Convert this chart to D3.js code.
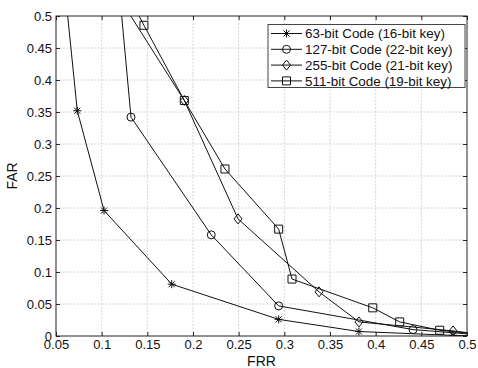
<!DOCTYPE html>
<html><head><meta charset="utf-8">
<script src="https://cdn.jsdelivr.net/npm/d3@7"></script>
<style>body{margin:0;background:#fff}svg{display:block;font-family:Arial,"Liberation Sans",sans-serif}</style>
</head><body><svg id="c" width="478" height="368"></svg>
<script>
const xTicks = [0.05,0.1,0.15,0.2,0.25,0.3,0.35,0.4,0.45,0.5];
const yTicks = [0,0.05,0.1,0.15,0.2,0.25,0.3,0.35,0.4,0.45,0.5];
const seriesNames = ["63-bit Code (16-bit key)","127-bit Code (22-bit key)","255-bit Code (21-bit key)","511-bit Code (19-bit key)"];
const markers = ["star","circle","diamond","square"];
const frr63 = [0.0557,0.0733,0.1026,0.1767,0.2938,0.3817,0.4847,0.53];
const far63 = [0.6,0.352,0.196,0.081,0.026,0.007,0.001,0.0];
const frr127 = [0.1155,0.1321,0.2200,0.2938,0.4409,0.53];
const far127 = [0.6,0.342,0.158,0.047,0.010,0.0];
const frr255 = [0.0874,0.1905,0.2493,0.3380,0.3817,0.4847,0.53];
const far255 = [0.6,0.368,0.183,0.069,0.022,0.008,0.0];
const frr511 = [0.104,0.1463,0.1905,0.2350,0.2938,0.3084,0.3968,0.4263,0.4701,0.53];
const far511 = [0.6,0.4855,0.368,0.261,0.167,0.089,0.044,0.022,0.009,0.0];
const allFrr = [frr63,frr127,frr255,frr511];
const allFar = [far63,far127,far255,far511];

const L=56,R=467,T=16,B=336;
const svg=d3.select("#c");
const x=d3.scaleLinear().domain([0.05,0.5]).range([L,R]);
const y=d3.scaleLinear().domain([0,0.5]).range([B,T]);

// grid
const g=svg.append("g");
g.selectAll(".vg").data(xTicks.slice(1,-1)).join("line").attr("x1",d=>x(d)).attr("x2",d=>x(d)).attr("y1",T).attr("y2",B)
 .attr("stroke","#d4d4d4").attr("stroke-width",1).attr("stroke-dasharray","2,1.5");
g.selectAll(".hg").data(yTicks.slice(1,-1)).join("line").attr("y1",d=>y(d)).attr("y2",d=>y(d)).attr("x1",L).attr("x2",R)
 .attr("stroke","#d4d4d4").attr("stroke-width",1).attr("stroke-dasharray","2,1.5");

// axes
const ax=svg.append("g").attr("transform",`translate(0,${B})`).call(d3.axisBottom(x).tickValues(xTicks).tickFormat(d3.format("~g")).tickSizeInner(-4).tickSizeOuter(0).tickPadding(3.5));
const ay=svg.append("g").attr("transform",`translate(${L},0)`).call(d3.axisLeft(y).tickValues(yTicks).tickFormat(d3.format("~g")).tickSizeInner(-4).tickSizeOuter(0).tickPadding(4));
const at=svg.append("g").attr("transform",`translate(0,${T})`).call(d3.axisTop(x).tickValues(xTicks).tickFormat("").tickSizeInner(-4).tickSizeOuter(0));
const ar=svg.append("g").attr("transform",`translate(${R},0)`).call(d3.axisRight(y).tickValues(yTicks).tickFormat("").tickSizeInner(-4).tickSizeOuter(0));
[ax,ay,at,ar].forEach(a=>{a.select(".domain").remove();a.selectAll("line").attr("stroke","#222");a.selectAll("text").attr("font-size",13).attr("fill","#111").attr("font-family","Arial,'Liberation Sans',sans-serif");});
ax.selectAll("text").attr("dy","0.71em");

svg.append("defs").append("clipPath").attr("id","clip").append("rect").attr("x",L).attr("y",T).attr("width",R-L).attr("height",B-T);

function markerPath(type,cx,cy){
  const s=4;
  if(type==="star") return `M${cx-s},${cy}H${cx+s}M${cx},${cy-s}V${cy+s}M${cx-3},${cy-3}L${cx+3},${cy+3}M${cx-3},${cy+3}L${cx+3},${cy-3}`;
  if(type==="circle") return `M${cx+s},${cy}A${s},${s} 0 1,1 ${cx-s},${cy}A${s},${s} 0 1,1 ${cx+s},${cy}Z`;
  if(type==="diamond") return `M${cx},${cy-5}L${cx+4},${cy}L${cx},${cy+5}L${cx-4},${cy}Z`;
  return `M${cx-4},${cy-4}H${cx+4}V${cy+4}H${cx-4}Z`;
}

const plot=svg.append("g").attr("clip-path","url(#clip)");
const line=d3.line().x(d=>x(d[0])).y(d=>y(d[1]));
allFrr.forEach((fr,i)=>{
  const pts=fr.map((v,j)=>[v,allFar[i][j]]);
  plot.append("path").datum(pts).attr("d",line).attr("fill","none").attr("stroke","#111").attr("stroke-width",1);
  plot.selectAll(null).data(pts).join("path").attr("d",d=>markerPath(markers[i],x(d[0]),y(d[1])))
   .attr("fill","none").attr("stroke","#111").attr("stroke-width",1);
});

// frame
svg.append("rect").attr("x",L).attr("y",T).attr("width",R-L).attr("height",B-T).attr("fill","none").attr("stroke","#222").attr("stroke-width",1);

// labels
svg.append("text").attr("x",(L+R)/2).attr("y",366).attr("text-anchor","middle").attr("font-size",14).attr("fill","#111").text("FRR");
svg.append("text").attr("transform",`translate(17,${(T+B)/2}) rotate(-90)`).attr("text-anchor","middle").attr("font-size",14).attr("fill","#111").text("FAR");

// legend
const lg=svg.append("g");
lg.append("rect").attr("x",268).attr("y",24.5).attr("width",197).attr("height",63).attr("fill","#fff").attr("stroke","#444").attr("stroke-width",1);
seriesNames.forEach((n,i)=>{
  const yy=33.5+i*15.8;
  lg.append("line").attr("x1",271).attr("x2",302).attr("y1",yy).attr("y2",yy).attr("stroke","#111");
  lg.append("path").attr("d",markerPath(markers[i],286.5,yy)).attr("fill","none").attr("stroke","#111");
  lg.append("text").attr("x",305).attr("y",yy).attr("dy","0.35em").attr("font-size",13.4).attr("fill","#111").text(n);
});
</script></body></html>
